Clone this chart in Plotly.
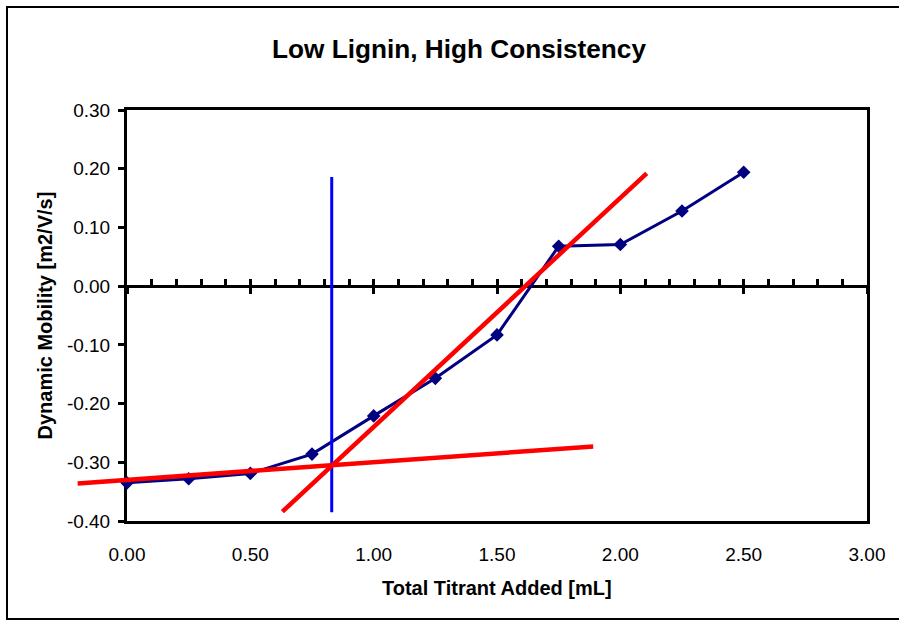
import plotly.graph_objects as go

# ---- data ----
titrant = [0.00, 0.25, 0.50, 0.75, 1.00, 1.25, 1.50, 1.75, 2.00, 2.25, 2.50]
mobility = [-0.335, -0.328, -0.319, -0.286, -0.221, -0.157, -0.083, 0.068, 0.071, 0.128, 0.194]

fit_low_x = [-0.20, 1.89]
fit_low_y = [-0.336, -0.273]
fit_steep_x = [0.63, 2.107]
fit_steep_y = [-0.384, 0.192]
endpoint_x = [0.83, 0.83]
endpoint_y = [-0.385, 0.186]

x_ticks = [0.0, 0.5, 1.0, 1.5, 2.0, 2.5, 3.0]
y_ticks = [-0.4, -0.3, -0.2, -0.1, 0.0, 0.1, 0.2, 0.3]
x_range = [0.0, 3.0]
y_range = [-0.4, 0.3]

# ---- layout geometry ----
W, H = 899, 621
L, R, T, B = 70, 32, 110, 100
plot_w = W - L - R
plot_h = H - T - B
frame_left_px = 127
d0 = (frame_left_px - L) / plot_w
ext_left = x_range[0] - d0 / (1 - d0) * (x_range[1] - x_range[0])
zero_pos = (0 - y_range[0]) / (y_range[1] - y_range[0])

FONT = "Arial, Liberation Sans, sans-serif"

fig = go.Figure()
# empty traces so that the frame axes and the zero axis get drawn
for ax in ["x", "x2", "x3"]:
    fig.add_trace(go.Scatter(x=[None], y=[None], xaxis=ax, yaxis="y",
                             mode="markers", showlegend=False, hoverinfo="skip"))

fig.add_trace(go.Scatter(x=titrant, y=mobility, mode="lines+markers",
                         xaxis="x4", yaxis="y",
                         line=dict(color="#000080", width=3),
                         marker=dict(symbol="diamond", size=10.5, color="#000080"),
                         showlegend=False, cliponaxis=False))
fig.add_trace(go.Scatter(x=endpoint_x, y=endpoint_y, mode="lines",
                         xaxis="x4", yaxis="y",
                         line=dict(color="#0000FF", width=3),
                         showlegend=False))
fig.add_trace(go.Scatter(x=fit_low_x, y=fit_low_y, mode="lines",
                         xaxis="x4", yaxis="y",
                         line=dict(color="#FF0000", width=4.5),
                         showlegend=False))
fig.add_trace(go.Scatter(x=fit_steep_x, y=fit_steep_y, mode="lines",
                         xaxis="x4", yaxis="y",
                         line=dict(color="#FF0000", width=4.5),
                         showlegend=False))

tickfont = dict(family=FONT, size=19, color="black")

fig.update_layout(
    width=W, height=H,
    margin=dict(l=L, r=R, t=T, b=B, pad=0),
    paper_bgcolor="white", plot_bgcolor="rgba(0,0,0,0)",
    showlegend=False,
    title=dict(text="Low Lignin, High Consistency",
               font=dict(family=FONT, size=26.2, color="black", weight="bold"),
               xref="container", yref="container",
               x=459 / W, y=1 - 49 / H, xanchor="center", yanchor="middle"),
    xaxis=dict(domain=[d0, 1], range=x_range, tickvals=x_ticks,
               ticktext=[f"{v:.2f}" for v in x_ticks],
               showline=True, linecolor="black", linewidth=3, mirror=True,
               ticks="", showgrid=False, zeroline=False,
               tickfont=tickfont, ticklabelstandoff=14, anchor="y"),
    xaxis2=dict(overlaying="x", range=x_range, anchor="free", position=zero_pos,
                side="bottom", showline=True, linecolor="black", linewidth=3,
                ticks="inside", tickmode="linear", tick0=0, dtick=0.1,
                ticklen=6, tickwidth=2.5, tickcolor="black",
                showticklabels=False, showgrid=False, zeroline=False),
    xaxis3=dict(overlaying="x", range=x_range, anchor="free", position=zero_pos,
                side="bottom", showline=False,
                ticks="outside", tickmode="linear", tick0=0, dtick=0.5,
                ticklen=7, tickwidth=2.5, tickcolor="black",
                showticklabels=False, showgrid=False, zeroline=False),
    xaxis4=dict(domain=[0, 1], range=[ext_left, x_range[1]], visible=False,
                anchor="y", showgrid=False, zeroline=False),
    yaxis=dict(domain=[0, 1], range=y_range, tickvals=y_ticks,
               ticktext=[f"{v:.2f}" for v in y_ticks],
               showline=True, linecolor="black", linewidth=3, mirror=True,
               ticks="outside", ticklen=6, tickwidth=2.5, tickcolor="black",
               showgrid=False, zeroline=False, tickfont=tickfont,
               ticklabelstandoff=4, anchor="x"),
    annotations=[
        dict(text="Total Titrant Added [mL]", xref="paper", yref="paper",
             x=(497 - L) / plot_w, y=(plot_h - (588 - T)) / plot_h,
             xanchor="center", yanchor="middle", showarrow=False,
             font=dict(family=FONT, size=20, color="black", weight="bold")),
        dict(text="Dynamic Mobility [m2/V/s]", xref="paper", yref="paper",
             x=(44 - L) / plot_w, y=0.5, textangle=-90,
             xanchor="center", yanchor="middle", showarrow=False,
             font=dict(family=FONT, size=20, color="black", weight="bold")),
    ],
    shapes=[
        dict(type="rect", xref="paper", yref="paper",
             x0=(7 - L) / plot_w, x1=(905 - L) / plot_w,
             y0=(plot_h - (619 - T)) / plot_h, y1=(plot_h - (7 - T)) / plot_h,
             line=dict(color="black", width=2), fillcolor="rgba(0,0,0,0)",
             layer="below"),
    ],
)

fig.write_html("out.html")
